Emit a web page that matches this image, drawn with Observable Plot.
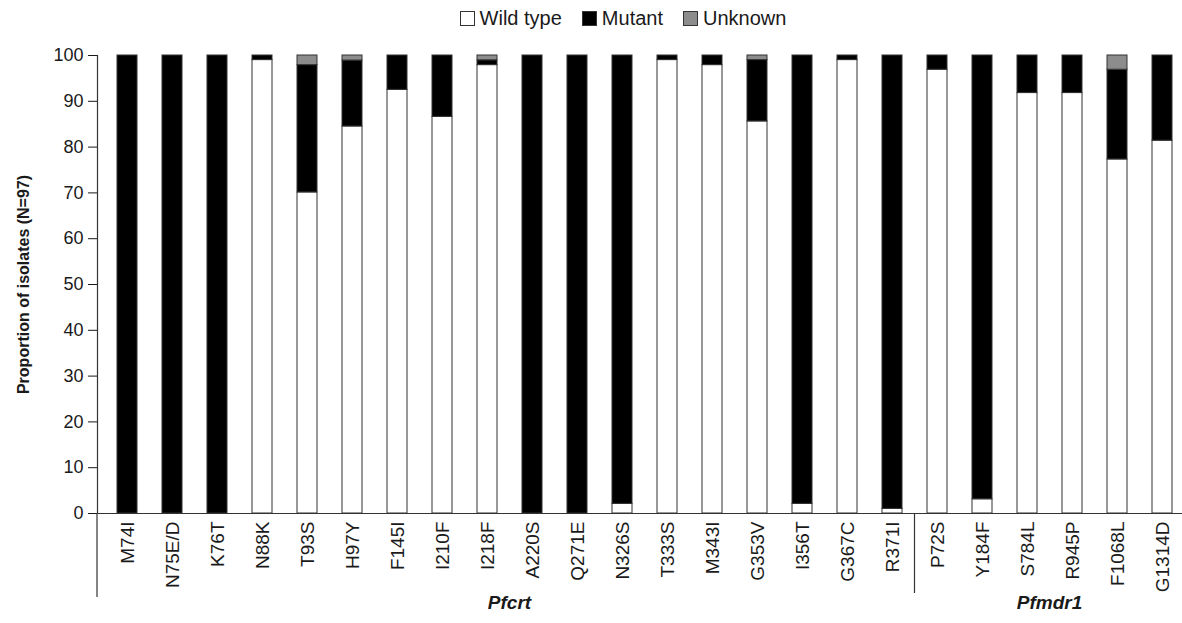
<!DOCTYPE html>
<html>
<head>
<meta charset="utf-8">
<script src="https://cdn.jsdelivr.net/npm/d3@7"></script>
<script src="https://cdn.jsdelivr.net/npm/@observablehq/plot@0.6"></script>
<style>
  html, body { margin: 0; padding: 0; background: #fff; }
  body { font-family: "Liberation Sans", Arial, sans-serif; color: #1a1a1a; }
  #legend { height: 36px; display: flex; justify-content: center; align-items: center; padding-left: 64px; font-size: 20px; gap: 20px; }
  #legend .item { display: flex; align-items: center; gap: 5px; }
  #legend .sw { width: 15px; height: 15px; border: 1px solid #333; box-sizing: border-box; }
  #chart svg { display: block; }
  g[aria-label="y-axis label"] text { font-weight: bold; font-size: 16px; }
</style>
</head>
<body>
<div id="legend"></div>
<div id="chart"></div>
<script>
// ---- Data ----
const mutations = ["M74I","N75E/D","K76T","N88K","T93S","H97Y","F145I","I210F","I218F","A220S","Q271E","N326S","T333S","M343I","G353V","I356T","G367C","R371I","P72S","Y184F","S784L","R945P","F1068L","G1314D"];
const genes     = ["Pfcrt","Pfcrt","Pfcrt","Pfcrt","Pfcrt","Pfcrt","Pfcrt","Pfcrt","Pfcrt","Pfcrt","Pfcrt","Pfcrt","Pfcrt","Pfcrt","Pfcrt","Pfcrt","Pfcrt","Pfcrt","Pfmdr1","Pfmdr1","Pfmdr1","Pfmdr1","Pfmdr1","Pfmdr1"];
const wildType  = [0, 0, 0, 99, 70.1, 84.5, 92.5, 86.6, 97.9, 0, 0, 2.1, 99, 97.9, 85.6, 2.1, 99, 1, 96.9, 3.1, 91.8, 91.8, 77.3, 81.4];
const mutant    = [100, 100, 100, 1, 27.8, 14.4, 7.5, 13.4, 1.05, 100, 100, 97.9, 1, 2.1, 13.4, 97.9, 1, 99, 3.1, 96.9, 8.2, 8.2, 19.6, 18.6];
const unknown   = [0, 0, 0, 0, 2.1, 1.1, 0, 0, 1.05, 0, 0, 0, 0, 0, 1, 0, 0, 0, 0, 0, 0, 0, 3.1, 0];
const statuses  = ["Wild type", "Mutant", "Unknown"];
const statusColors = ["#ffffff", "#000000", "#8c8c8c"];
const yTicks    = [0, 10, 20, 30, 40, 50, 60, 70, 80, 90, 100];
const yLabel    = "Proportion of isolates (N=97)";
const geneNames = ["Pfcrt", "Pfmdr1"];

// ---- Build long table ----
const series = [wildType, mutant, unknown];
const rows = [];
mutations.forEach((m, i) => {
  statuses.forEach((s, k) => {
    const v = series[k][i];
    if (v > 0) rows.push({mutation: m, status: s, value: v});
  });
});

// ---- Legend ----
const legend = d3.select("#legend");
statuses.forEach((s, k) => {
  const it = legend.append("div").attr("class", "item");
  it.append("div").attr("class", "sw").style("background", statusColors[k]);
  it.append("span").text(s);
});

// ---- Chart ----
const W = 1182, H = 587;
const plot = Plot.plot({
  width: W,
  height: H,
  marginTop: 19,
  marginBottom: 110,
  marginLeft: 97,
  marginRight: 0,
  style: {fontFamily: "'Liberation Sans', Arial, sans-serif", fontSize: "18px", color: "#1a1a1a", background: "#fff"},
  x: {domain: mutations, paddingInner: 0.56, paddingOuter: 0.185, align: 0.65},
  y: {domain: [0, 100]},
  color: {domain: statuses, range: statusColors},
  marks: [
    Plot.barY(rows, {x: "mutation", y: "value", fill: "status", stroke: "#333", strokeWidth: 1}),
    Plot.axisY({ticks: yTicks, tickSize: 9, tickPadding: 5, fontSize: 18, label: yLabel, labelAnchor: "center", labelArrow: "none", labelOffset: 80}),
    Plot.axisX({tickRotate: -90, tickSize: 0, tickPadding: 8, fontSize: 19, label: null}),
    Plot.ruleY([0], {stroke: "#333", strokeWidth: 1.2}),
    Plot.frame({anchor: "left", stroke: "#333", strokeWidth: 1.2})
  ]
});
document.getElementById("chart").appendChild(plot);

// ---- Extended axis lines and gene group labels, positioned via the plot's scales ----
const xs = plot.scale("x");
const ys = plot.scale("y");
const svg = d3.select(plot);
const y0 = ys.apply(0);
const bw = xs.bandwidth;
const step = xs.step;
const left = xs.range[0];
const g = svg.append("g");
g.append("line").attr("x1", left).attr("x2", left).attr("y1", y0).attr("y2", y0 + 84)
  .attr("stroke", "#333").attr("stroke-width", 1.2);
geneNames.forEach((gn, gi) => {
  const idx = genes.map((d, i) => d === gn ? i : -1).filter(i => i >= 0);
  const first = xs.apply(mutations[idx[0]]) + bw / 2;
  const last = xs.apply(mutations[idx[idx.length - 1]]) + bw / 2;
  if (gi > 0) {
    const sep = first - step / 2;
    g.append("line").attr("x1", sep).attr("x2", sep).attr("y1", y0).attr("y2", y0 + 80)
      .attr("stroke", "#333").attr("stroke-width", 1.2);
  }
  g.append("text").attr("x", (first + last) / 2).attr("y", y0 + 96)
    .attr("text-anchor", "middle")
    .attr("font-family", "'Liberation Sans', Arial, sans-serif")
    .attr("font-size", 19).attr("font-weight", "bold").attr("font-style", "italic")
    .attr("fill", "#1a1a1a").text(gn);
});
</script>
</body>
</html>
